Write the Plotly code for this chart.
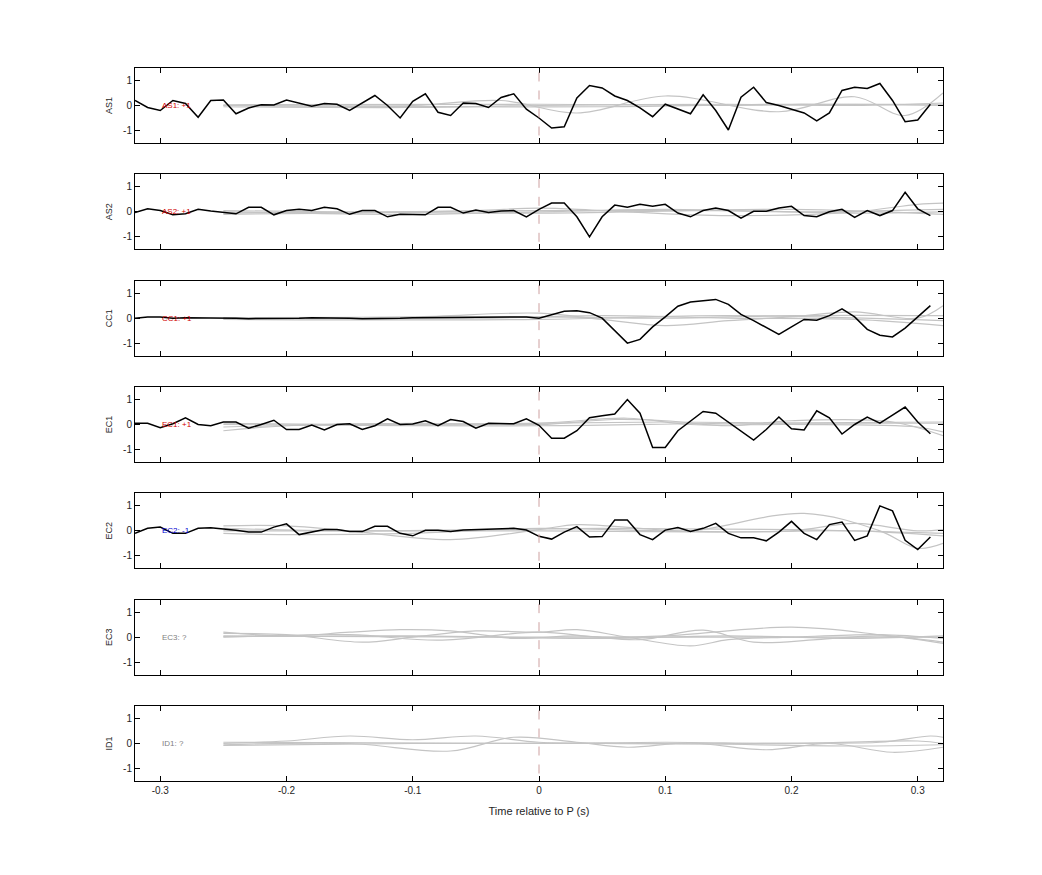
import numpy as np
import plotly.graph_objects as go
from plotly.subplots import make_subplots

stations = ["AS1", "AS2", "CC1", "EC1", "EC2", "EC3", "ID1"]
labels = ["AS1: +1", "AS2: +1", "CC1: +1", "EC1: +1", "EC2: -1", "EC3: ?", "ID1: ?"]
label_colors = ["#d00000", "#d00000", "#d00000", "#d00000", "#0000d0", "#808080", "#808080"]

t = [round(-0.32 + 0.01 * k, 2) for k in range(64)]

AS1 = [0.2,-0.08,-0.2,0.2,0.08,-0.47,0.2,0.22,-0.33,-0.1,0.03,0.02,0.22,0.1,-0.03,0.08,0.05,-0.2,0.1,0.4,
       0.0,-0.5,0.17,0.47,-0.27,-0.4,0.1,0.08,-0.08,0.32,0.47,-0.15,-0.5,-0.9,-0.85,0.3,0.8,0.7,0.38,0.2,
       -0.1,-0.45,0.05,-0.15,-0.33,0.43,-0.2,-0.98,0.33,0.73,0.12,0.0,-0.15,-0.3,-0.62,-0.3,0.6,0.73,0.68,0.88,
       0.2,-0.65,-0.58,0.05]
AS2 = [-0.03,0.12,0.05,-0.12,-0.08,0.1,0.03,-0.02,-0.08,0.18,0.18,-0.12,0.05,0.1,0.05,0.18,0.12,-0.1,0.05,0.05,
       -0.2,-0.1,-0.12,-0.12,0.18,0.18,-0.05,0.07,-0.03,0.03,0.05,-0.2,0.1,0.35,0.35,-0.2,-1.0,-0.2,0.27,0.18,
       0.3,0.22,0.3,-0.05,-0.2,0.05,0.15,0.05,-0.25,0.02,0.02,0.15,0.22,-0.15,-0.2,0.0,0.1,-0.22,0.05,-0.15,
       0.05,0.78,0.12,-0.15]
CC1 = [0.0,0.05,0.05,0.0,0.02,0.02,0.0,0.0,0.0,-0.02,-0.02,0.0,0.0,0.0,0.02,0.02,0.0,0.0,-0.02,-0.02,
       0.0,0.0,0.02,0.02,0.03,0.02,0.02,0.03,0.03,0.05,0.05,0.05,0.0,0.15,0.28,0.3,0.22,0.0,-0.5,-1.0,
       -0.85,-0.35,0.05,0.48,0.65,0.7,0.75,0.55,0.15,-0.1,-0.38,-0.65,-0.35,-0.05,-0.08,0.1,0.37,0.05,-0.45,-0.68,
       -0.75,-0.4,0.05,0.5]
EC1 = [0.05,0.05,-0.13,0.03,0.27,0.0,-0.05,0.1,0.1,-0.15,0.0,0.17,-0.2,-0.2,-0.02,-0.22,0.0,0.03,-0.2,-0.05,
       0.23,0.0,0.02,0.15,-0.05,0.2,0.12,-0.15,0.05,0.03,0.03,0.23,-0.03,-0.55,-0.55,-0.25,0.27,0.35,0.42,1.0,
       0.45,-0.92,-0.92,-0.25,0.15,0.52,0.45,0.1,-0.25,-0.62,-0.2,0.3,-0.17,-0.22,0.55,0.27,-0.38,0.0,0.3,0.05,
       0.38,0.7,0.1,-0.37]
EC2 = [-0.1,0.1,0.15,-0.1,-0.1,0.1,0.12,0.08,0.02,-0.05,-0.05,0.15,0.28,-0.15,-0.05,0.05,0.05,-0.03,-0.03,0.18,
       0.18,-0.1,-0.2,0.02,0.02,-0.03,0.03,0.05,0.05,0.07,0.1,0.03,-0.22,-0.33,-0.05,0.17,-0.25,-0.23,0.43,0.43,
       -0.15,-0.35,0.03,0.13,-0.03,0.1,0.3,-0.1,-0.28,-0.28,-0.4,-0.05,0.38,-0.1,-0.35,0.25,0.35,-0.38,-0.2,1.0,
       0.8,-0.38,-0.75,-0.25]
black_series = [AS1, AS2, CC1, EC1, EC2, None, None]

gray_AS1 = [
    ([-0.25,-0.1,-0.03,0.03,0.1,0.19,0.25,0.29,0.32], [0.0,0.0,0.2,-0.3,0.38,-0.25,0.35,-0.4,0.5]),
    ([-0.25,-0.1,0.0,0.15,0.25,0.32], [-0.05,-0.08,0.0,0.05,0.0,0.1]),
    ([-0.25,0.0,0.15,0.25,0.32], [0.03,0.05,0.0,0.05,0.05]),
    ([-0.25,0.05,0.2,0.32], [0.0,-0.05,0.05,0.0]),
]
gray_AS2 = [
    ([-0.25,-0.15,-0.05,0.0,0.05,0.15,0.25,0.3,0.32], [-0.1,-0.05,0.05,0.15,0.05,-0.15,0.0,0.3,0.35]),
    ([-0.25,-0.1,0.0,0.1,0.2,0.32], [0.0,-0.1,0.0,0.1,0.0,0.1]),
    ([-0.25,0.0,0.15,0.25,0.32], [-0.05,0.05,0.05,-0.05,0.0]),
    ([-0.25,0.0,0.2,0.32], [0.05,-0.05,0.1,-0.1]),
]
gray_CC1 = [
    ([-0.25,-0.1,0.0,0.05,0.1,0.15,0.2,0.25,0.3,0.32], [0.0,0.05,0.2,-0.05,-0.3,-0.1,0.05,0.25,0.0,0.5]),
    ([-0.25,-0.05,0.05,0.15,0.25,0.32], [-0.02,0.0,0.1,0.0,-0.05,-0.3]),
    ([-0.25,0.0,0.1,0.2,0.32], [0.02,0.05,0.0,0.1,0.1]),
    ([-0.25,0.0,0.15,0.32], [-0.05,-0.05,0.1,-0.1]),
]
gray_EC1 = [
    ([-0.25,-0.2,-0.1,0.0,0.06,0.1,0.15,0.2,0.28,0.32], [-0.25,-0.05,0.05,0.0,0.2,0.15,-0.05,0.15,0.1,-0.45]),
    ([-0.25,-0.15,0.0,0.07,0.12,0.2,0.3,0.32], [-0.1,0.0,0.05,0.25,0.0,0.0,-0.1,-0.3]),
    ([-0.25,-0.1,0.1,0.2,0.32], [0.05,0.0,0.1,0.05,0.05]),
    ([-0.25,0.0,0.15,0.32], [0.0,-0.05,0.05,0.1]),
]
gray_EC2 = [
    ([-0.25,-0.2,-0.15,-0.07,0.0,0.03,0.08,0.12,0.21,0.27,0.3,0.32], [0.2,0.2,0.0,-0.35,0.05,0.25,0.1,0.0,0.7,0.0,-0.7,-0.5]),
    ([-0.25,-0.2,-0.1,0.0,0.1,0.2,0.25,0.3,0.32], [-0.1,-0.15,-0.1,0.1,0.0,0.0,0.3,0.0,0.05]),
    ([-0.25,0.0,0.15,0.25,0.32], [0.0,0.0,-0.05,0.0,-0.2]),
    ([-0.25,-0.15,0.05,0.2,0.32], [0.1,0.0,0.1,0.05,-0.1]),
]
gray_EC3 = [
    ([-0.25,-0.2,-0.14,-0.1,-0.05,0.0,0.03,0.07,0.12,0.15,0.2,0.27,0.32], [0.15,0.1,-0.2,0.0,0.25,0.2,0.3,0.0,-0.35,-0.1,0.0,0.1,-0.05]),
    ([-0.25,-0.2,-0.15,-0.11,-0.07,-0.02,0.03,0.08,0.13,0.17,0.22,0.27,0.32], [0.2,0.05,0.2,0.3,0.25,-0.05,0.05,-0.1,0.28,-0.2,-0.1,0.05,-0.2]),
    ([-0.25,-0.15,-0.08,0.0,0.05,0.1,0.2,0.27,0.32], [0.0,0.1,-0.12,0.2,0.0,0.05,0.4,0.1,-0.25]),
    ([-0.25,0.0,0.32], [0.05,0.0,0.0]),
    ([-0.25,-0.1,0.05,0.15,0.25,0.32], [0.02,0.05,-0.05,0.05,-0.05,0.05]),
]
gray_ID1 = [
    ([-0.25,-0.2,-0.15,-0.1,-0.05,0.0,0.05,0.1,0.2,0.27,0.31,0.32], [0.0,0.1,0.3,0.15,0.3,0.05,0.0,-0.02,0.02,0.05,0.3,0.25]),
    ([-0.25,-0.15,-0.07,-0.02,0.03,0.07,0.12,0.18,0.23,0.28,0.32], [-0.05,0.0,-0.3,0.25,0.05,-0.15,0.02,-0.25,0.0,-0.35,-0.15]),
    ([-0.25,0.0,0.1,0.2,0.3,0.32], [0.05,0.0,0.05,0.0,0.1,0.0]),
    ([-0.25,-0.1,0.1,0.25,0.32], [-0.08,0.0,0.0,-0.1,-0.05]),
]
gray_series = [gray_AS1, gray_AS2, gray_CC1, gray_EC1, gray_EC2, gray_EC3, gray_ID1]

n = len(stations)
fig = make_subplots(rows=n, cols=1, shared_xaxes=True, vertical_spacing=0.044)
for i in range(n):
    r = i + 1
    for gx, gy in gray_series[i]:
        fig.add_trace(go.Scatter(x=gx, y=gy, mode="lines", line=dict(color="#c4c4c4", width=1.2, shape="spline", smoothing=1.0),
                                 showlegend=False, hoverinfo="skip"), row=r, col=1)
    if black_series[i] is not None:
        fig.add_trace(go.Scatter(x=t, y=black_series[i], mode="lines", line=dict(color="black", width=1.5),
                                 showlegend=False), row=r, col=1)
    fig.add_shape(type="line", x0=0, x1=0, y0=-1.2, y1=1.5, line=dict(color="rgb(205,160,160)", width=1, dash="dash"),
                  row=r, col=1)
    fig.add_annotation(x=-0.3, y=0, text=labels[i], showarrow=False, xanchor="left",
                       font=dict(size=8, color=label_colors[i]), row=r, col=1)
    fig.update_yaxes(range=[-1.5, 1.5], tickvals=[-1, 0, 1], ticktext=["-1", "0", "1"],
                     title=dict(text=stations[i], font=dict(size=9), standoff=8),
                     row=r, col=1)

fig.update_xaxes(range=[-0.32, 0.32], tickvals=[-0.3, -0.2, -0.1, 0, 0.1, 0.2, 0.3],
                 ticktext=["-0.3", "-0.2", "-0.1", "0", "0.1", "0.2", "0.3"],
                 showline=True, linecolor="black", linewidth=1, mirror="ticks", ticks="inside", ticklen=5,
                 tickcolor="black", showgrid=False, zeroline=False)
fig.update_yaxes(showline=True, linecolor="black", linewidth=1, mirror="ticks", ticks="inside", ticklen=5,
                 tickcolor="black", showgrid=False, zeroline=False)
fig.update_xaxes(title=dict(text="Time relative to P (s)", font=dict(size=11), standoff=12), row=n, col=1)

fig.update_layout(width=1042, height=875, plot_bgcolor="white", paper_bgcolor="white",
                  margin=dict(l=127, r=107, t=60, b=102),
                  font=dict(family="Liberation Sans, Arial, sans-serif", size=10, color="#262626"))
fig.write_html("out.html")
